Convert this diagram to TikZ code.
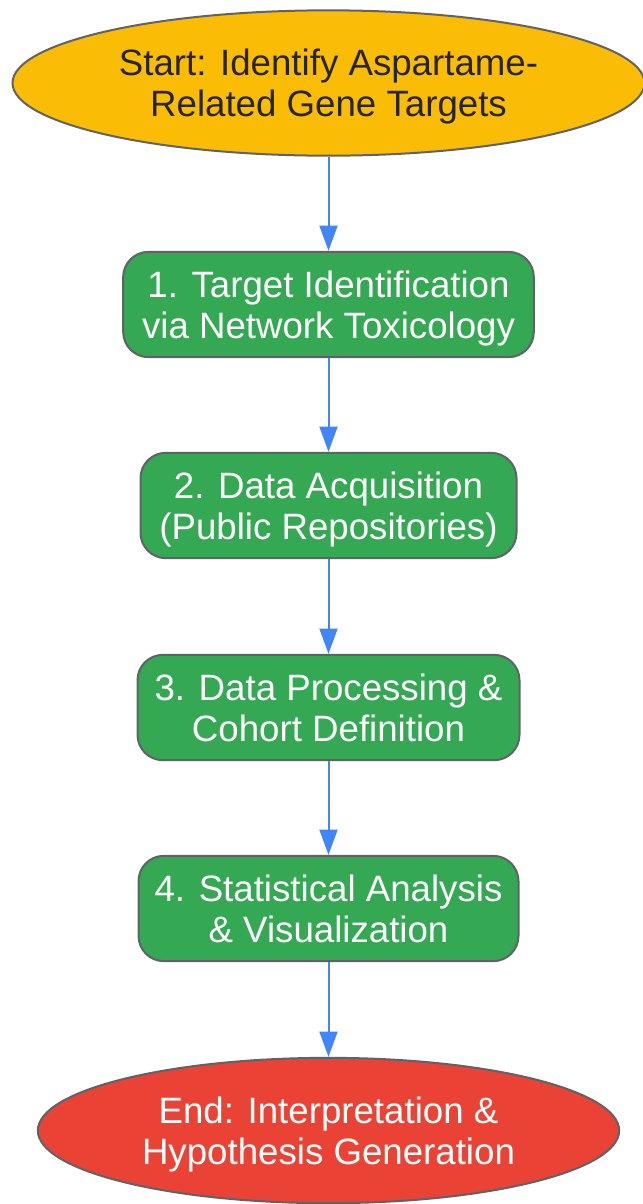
\documentclass[tikz,border=0pt]{standalone}
\usepackage{fontspec}
\setmainfont{Liberation Sans}
\usetikzlibrary{shapes.geometric, arrows.meta, positioning}

\definecolor{startyellow}{HTML}{FBBC05}
\definecolor{stepgreen}{HTML}{34A853}
\definecolor{endred}{HTML}{EA4335}
\definecolor{edgegray}{HTML}{5F6368}
\definecolor{flowblue}{HTML}{4285F4}

\tikzset{
	base/.style={draw=edgegray, line width=1.5pt, align=center, inner sep=0pt,
		text depth=-4.5pt, font=\fontsize{27.5}{30.75}\selectfont},
	terminal/.style={base, ellipse},
	stepbox/.style={base, rounded corners=19pt, fill=stepgreen, text=white,
		minimum height=79pt},
	flow/.style={draw=flowblue, line width=1.5pt, -{Triangle[length=19pt, width=13.5pt]}}
}

\begin{document}
\begin{tikzpicture}[x=0.75pt, y=-0.75pt]
	\useasboundingbox (0,0) rectangle (643,1204);
	\node[terminal, fill=startyellow, text=black!85, minimum width=474pt, minimum height=109pt] (start) at (328.5,83) {Start: Identify Aspartame-\\Related Gene Targets};
	\node[stepbox, minimum width=308pt] (s1) at (328.5,304.5) {1. Target Identification\\via Network Toxicology};
	\node[stepbox, minimum width=282pt] (s2) at (328.5,505.5) {2. Data Acquisition\\(Public Repositories)};
	\node[stepbox, minimum width=286.5pt] (s3) at (328.5,707.5) {3. Data Processing \&\\Cohort Definition};
	\node[stepbox, minimum width=285pt] (s4) at (328.5,908.5) {4. Statistical Analysis\\\& Visualization};
	\node[terminal, fill=endred, text=white, minimum width=436pt, minimum height=109pt] (end) at (328.5,1130.5) {End: Interpretation \&\\Hypothesis Generation};
	\draw[flow] (start) -- (s1);
	\draw[flow] (s1) -- (s2);
	\draw[flow] (s2) -- (s3);
	\draw[flow] (s3) -- (s4);
	\draw[flow] (s4) -- (end);
\end{tikzpicture}
\end{document}
